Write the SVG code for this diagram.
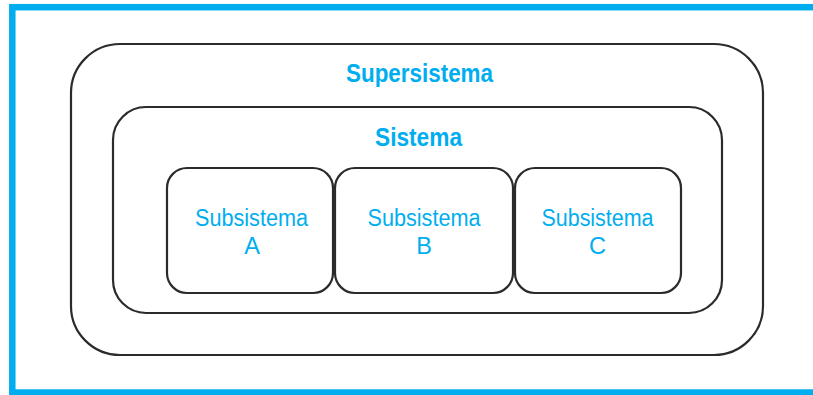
<svg xmlns="http://www.w3.org/2000/svg" width="813" height="395" viewBox="0 0 813 395">
<style>
.box{fill:none;stroke:#2b2b2b;stroke-width:2.2}
.t{fill:#00AEEF;font-family:"Liberation Sans",Arial,sans-serif;text-anchor:middle}
.b{font-weight:bold;font-size:26px}
.r{font-size:23.5px}
</style>
<rect x="0" y="0" width="813" height="395" fill="#ffffff"/>
<rect x="12.3" y="7.2" width="810" height="385.3" fill="none" stroke="#00AEEF" stroke-width="6.5"/>
<g id="supersistema">
<rect class="box" x="71" y="44" width="692" height="311" rx="49" ry="49"/>
<text class="t b" x="419.5" y="82" textLength="147" lengthAdjust="spacingAndGlyphs">Supersistema</text>
</g>
<g id="sistema">
<rect class="box" x="113" y="107" width="609" height="206" rx="33" ry="33"/>
<text class="t b" x="418.5" y="146" textLength="87" lengthAdjust="spacingAndGlyphs">Sistema</text>
</g>
<g id="subsistema-a">
<rect class="box" x="167" y="168" width="166" height="125" rx="20" ry="20"/>
<text class="t r" x="251.5" y="226" textLength="113" lengthAdjust="spacingAndGlyphs">Subsistema</text>
<text class="t r" x="252" y="253.5">A</text>
</g>
<g id="subsistema-b">
<rect class="box" x="335" y="168" width="178" height="125" rx="20" ry="20"/>
<text class="t r" x="424" y="226" textLength="113" lengthAdjust="spacingAndGlyphs">Subsistema</text>
<text class="t r" x="424" y="253.5">B</text>
</g>
<g id="subsistema-c">
<rect class="box" x="515" y="168" width="166" height="125" rx="20" ry="20"/>
<text class="t r" x="597.5" y="226" textLength="112" lengthAdjust="spacingAndGlyphs">Subsistema</text>
<text class="t r" x="597.5" y="253.5">C</text>
</g>
<g id="connectors"></g>
</svg>
